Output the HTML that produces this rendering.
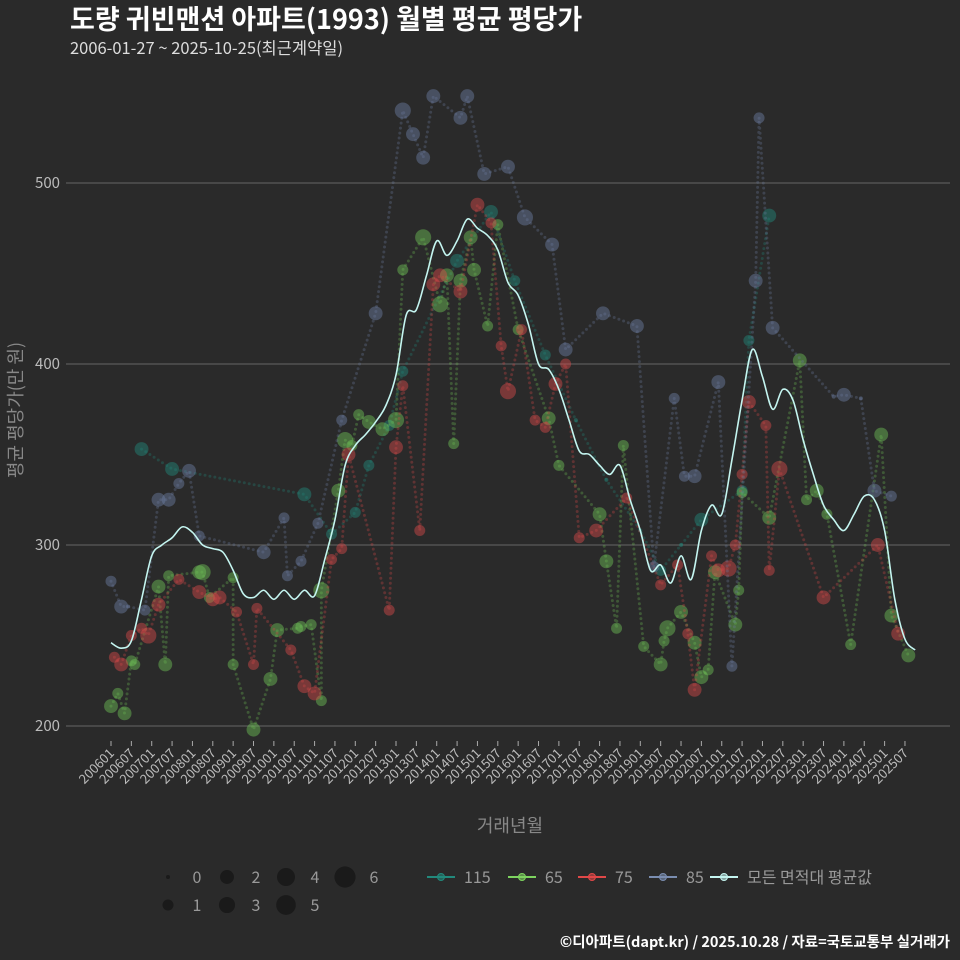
<!DOCTYPE html>
<html><head><meta charset="utf-8">
<style>
html,body{margin:0;padding:0;background:#2a2a2a;}
svg{display:block;font-family:"Noto Sans CJK KR","Liberation Sans",sans-serif;}
</style></head>
<body>
<svg id="chart" width="960" height="960" viewBox="0 0 960 960">
<rect width="960" height="960" fill="#2a2a2a"/>
<text x="70" y="29" font-size="27" font-weight="bold" fill="#ffffff">도량 귀빈맨션 아파트(1993) 월별 평균 평당가</text>
<text x="70" y="54" font-size="16.5" fill="#dddddd">2006-01-27 ~ 2025-10-25(최근계약일)</text>
<g id="grid"></g>
<g id="series"></g>
<g id="xaxis"></g>
<text x="510" y="832" font-size="18" fill="#888" text-anchor="middle">거래년월</text>
<text transform="translate(22,410) rotate(-90)" font-size="18" fill="#888" text-anchor="middle">평균 평당가(만 원)</text>
<g id="legend"></g>
<text x="950" y="947" font-size="14.5" font-weight="bold" fill="#fff" text-anchor="end">©디아파트(dapt.kr) / 2025.10.28 / 자료=국토교통부 실거래가</text>
</svg>
<script>
// months since 2006-01
const yTicks = [200, 300, 400, 500];
const xTickLabels = [];
for (let y = 2006; y <= 2025; y++) { xTickLabels.push(y + '01'); xTickLabels.push(y + '07'); }
const avgMonths = [];
for (let m = 0; m <= 234; m += 3) avgMonths.push(m);
avgMonths.push(237);
const avgValues = [246,243,247,270,294,300,304,310,307,300,298,296,286,273,271,275,270,275,270,275,272,292,314,344,355,361,368,377,394,427,430,449,468,460,468,480,475,471,463,445,438,422,400,397,386,369,352,350,344,339,344,325,308,286,289,279,294,281,308,322,317,347,380,408,393,375,386,380,358,339,322,314,308,317,327,325,308,270,248,242];
const s115Months = [9,18,57,65,72,76,82,86,102,112,119,128,137,146,156,162,168,174,186,188,194];
const s115Values = [353,342,328,306,318,344,366,396,457,484,446,405,369,336,308,286,300,314,330,413,482];
const s115Counts = [2,2,2,1,1,1,1,1,2,2,1,1,0,0,0,1,0,2,1,1,2];
const s65Months = [0,2,4,6,7,14,16,17,26,27,29,36,36,42,47,49,55,56,59,62,62,67,69,71,73,76,80,84,86,92,97,99,101,103,106,107,111,114,120,129,132,144,146,149,151,157,162,163,164,168,172,174,176,178,184,185,186,194,203,205,208,211,218,227,230,235];
const s65Values = [211,218,207,236,234,277,234,283,285,285,271,282,234,198,226,253,254,255,256,214,275,330,358,355,372,368,364,369,452,470,433,449,356,446,470,452,421,477,419,370,344,317,291,254,355,244,234,247,254,263,246,227,231,285,256,275,329,315,402,325,330,317,245,361,261,239];
const s65Counts = [2,1,2,1,1,2,2,1,2,3,1,1,1,2,2,2,1,1,1,1,3,2,3,1,1,2,2,3,1,3,3,2,1,2,2,2,1,1,1,2,1,2,2,1,1,1,2,1,3,2,2,2,1,2,2,1,1,2,2,1,2,1,1,2,2,2];
const s75Months = [1,3,6,9,11,14,20,26,30,32,37,42,43,53,57,60,65,68,70,82,84,86,91,95,97,103,108,112,115,117,121,125,128,131,134,138,143,152,162,167,170,172,177,179,182,184,186,188,193,194,197,210,226,232];
const s75Values = [238,234,250,254,250,267,281,274,270,271,263,234,265,242,222,218,292,298,350,264,354,388,308,444,449,440,488,478,410,385,419,369,365,389,400,304,308,326,278,289,251,220,294,286,287,300,339,379,366,286,342,271,300,251];
const s75Counts = [1,2,1,1,3,2,1,2,2,2,1,1,1,1,2,2,1,1,2,1,2,1,1,2,2,2,2,1,1,3,1,1,1,2,1,1,2,1,1,1,1,2,1,2,3,1,1,2,1,1,3,2,2,2];
const s85Months = [0,3,5,10,14,17,20,23,26,45,51,52,56,61,68,78,86,89,92,95,103,105,110,117,122,130,134,145,155,160,166,169,172,179,183,190,191,195,213,216,221,225,230];
const s85Values = [280,266,266,264,325,325,334,341,305,296,315,283,291,312,369,428,540,527,514,548,536,548,505,509,481,466,408,428,421,288,381,338,338,390,233,446,536,420,382,383,381,330,327];
const s85Counts = [1,2,0,1,2,2,1,2,1,2,1,1,1,1,1,2,3,2,2,2,2,2,2,2,3,2,2,2,2,1,1,1,2,2,1,2,1,2,0,2,0,2,1];

const NS = 'http://www.w3.org/2000/svg';
const X0 = 111, XPM = 3.393, PL = 66, PR = 950;
function xScale(m) { return X0 + m * XPM; }
function yScale(v) { return 183 + (500 - v) * 1.81; }
function rScale(c) { return 2 + 3.5 * Math.sqrt(c); }
function mk(tag, attrs, parent) {
  const e = document.createElementNS(NS, tag);
  for (const k in attrs) e.setAttribute(k, attrs[k]);
  parent.appendChild(e); return e;
}
const grid = document.getElementById('grid');
yTicks.forEach(v => {
  const l = mk('line', {x1: PL, x2: PR, y1: yScale(v), y2: yScale(v), stroke: '#5a5a5a', 'stroke-width': 1.2}, grid);
  
  
  const t = mk('text', {x: 60, y: yScale(v) + 5, 'font-size': 15, fill: '#bbb', 'text-anchor': 'end'}, grid);
  t.textContent = v;
  
  
});
const xa = document.getElementById('xaxis');
xTickLabels.forEach((lab, i) => {
  const x = xScale(i * 6);
  const tk = mk('line', {x1: x, x2: x, y1: 741, y2: 746, stroke: '#aaa', 'stroke-width': 1}, xa);
  
  
  const t = mk('text', {x: x + 4, y: 754, 'font-size': 13, fill: '#bbb', 'text-anchor': 'end', transform: 'rotate(-45 ' + (x + 4) + ' 754)'}, xa);
  t.textContent = lab;
  
  
});
const sg = document.getElementById('series');
const seriesDefs = [
  {name: '115', months: s115Months, values: s115Values, counts: s115Counts, color: '#22897c'},
  {name: '65', months: s65Months, values: s65Values, counts: s65Counts, color: '#6fc457'},
  {name: '75', months: s75Months, values: s75Values, counts: s75Counts, color: '#d94a4a'},
  {name: '85', months: s85Months, values: s85Values, counts: s85Counts, color: '#6c7ea3'}
];
seriesDefs.forEach(s => {
  const g = mk('g', {}, sg);
  
  
  const pts = s.months.map((m, i) => xScale(m) + ',' + yScale(s.values[i])).join(' ');
  const pl = mk('polyline', {points: pts, fill: 'none', stroke: s.color, 'stroke-width': 3, 'stroke-dasharray': '0 5', 'stroke-linecap': 'round', opacity: 0.3}, g);
  
  
  s.months.forEach((m, i) => {
    const c = mk('circle', {cx: xScale(m), cy: yScale(s.values[i]), r: rScale(s.counts[i]), fill: s.color, 'fill-opacity': 0.45}, g);
    
    
  });
});
// smooth avg line
(function () {
  const P = avgMonths.map((m, i) => [xScale(m), yScale(avgValues[i])]);
  let d = 'M' + P[0][0] + ',' + P[0][1];
  for (let i = 0; i < P.length - 1; i++) {
    const p0 = P[i - 1] || P[i], p1 = P[i], p2 = P[i + 1], p3 = P[i + 2] || P[i + 1];
    const c1 = [p1[0] + (p2[0] - p0[0]) / 6, p1[1] + (p2[1] - p0[1]) / 6];
    const c2 = [p2[0] - (p3[0] - p1[0]) / 6, p2[1] - (p3[1] - p1[1]) / 6];
    d += ' C' + c1.join(',') + ' ' + c2.join(',') + ' ' + p2.join(',');
  }
  const path = mk('path', {d: d, fill: 'none', stroke: '#c4f5f0', 'stroke-width': 1.6}, sg);
  
  
})();
// legend
const lg = document.getElementById('legend');
const sizeItems = [[0,168,877],[2,227,877],[4,286,877],[6,345,877],[1,168,905],[3,227,905],[5,286,905]];
sizeItems.forEach(it => {
  const c = mk('circle', {cx: it[1], cy: it[2], r: rScale(it[0]), fill: '#1a1a1a'}, lg);
  
  
  const t = mk('text', {x: it[1] + 29, y: it[2] + 6, 'font-size': 16, fill: '#999', 'text-anchor': 'middle'}, lg);
  t.textContent = it[0];
  
  
});
const legItems = [['115', '#22897c', 427], ['65', '#7dd35f', 508], ['75', '#e04848', 578], ['85', '#7a8db0', 649], ['모든 면적대 평균값', '#c4f5f0', 710]];
legItems.forEach(it => {
  const g = mk('g', {}, lg);
  
  
  mk('line', {x1: it[2], x2: it[2] + 28, y1: 877, y2: 877, stroke: it[1], 'stroke-width': 2}, g);
  mk('circle', {cx: it[2] + 14, cy: 877, r: 3.5, fill: it[1], 'fill-opacity': 0.6, stroke: it[1]}, g);
  const t = mk('text', {x: it[2] + 37, y: 883, 'font-size': 16, fill: '#999'}, g);
  t.textContent = it[0];
});
</script>
</body></html>
